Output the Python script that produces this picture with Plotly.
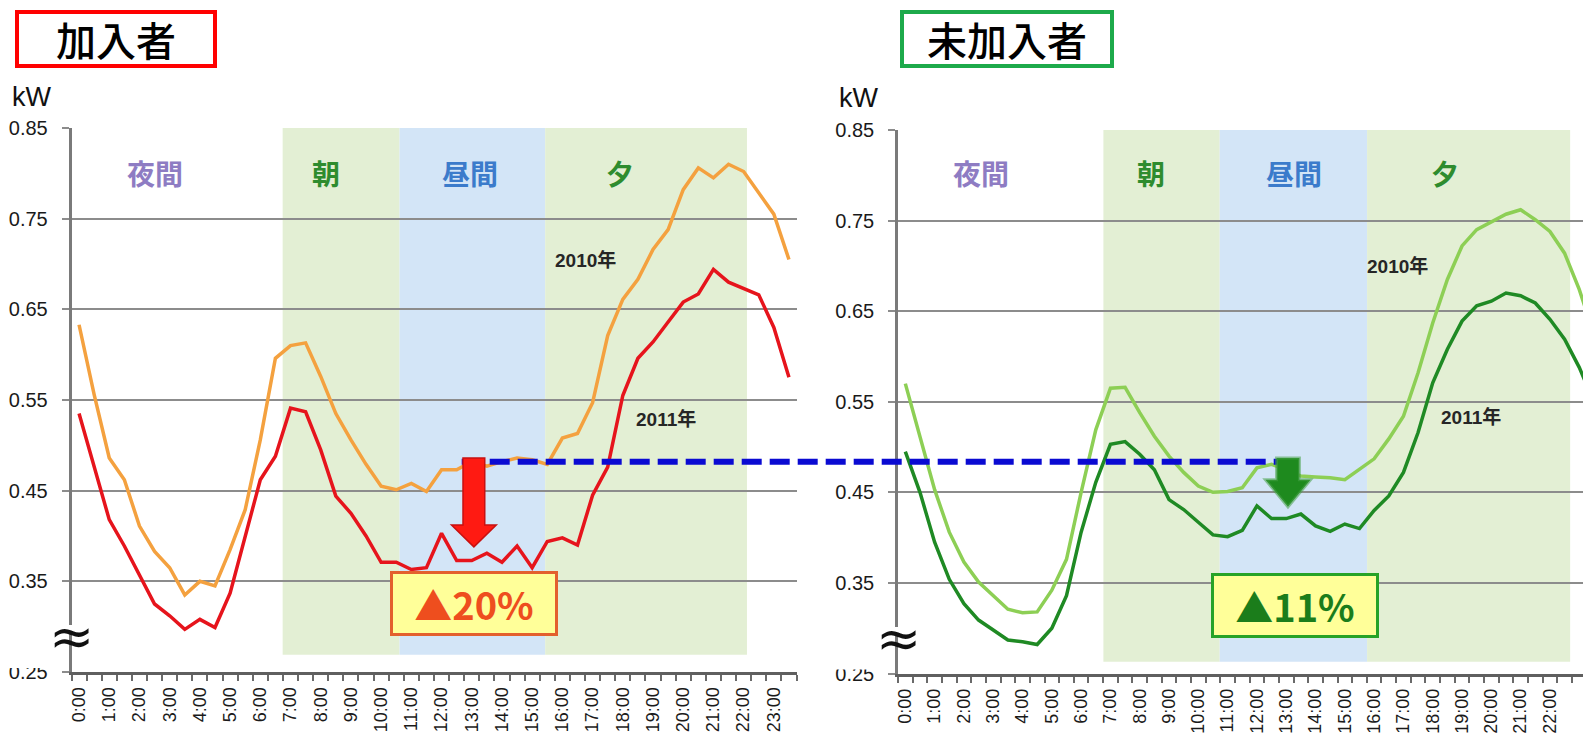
import plotly.graph_objects as go

W, H = 1583, 734

# ---------------- data ----------------
hours = [h / 2 for h in range(48)]            # half-hour slots 0:00 ... 23:30
hour_ticks = list(range(24))
hour_labels = [f"{h}:00" for h in range(24)]

# 加入者 (subscribers)
kanyu_2010 = [0.633, 0.556, 0.486, 0.462, 0.411, 0.383, 0.365, 0.335, 0.350, 0.345,
              0.385, 0.429, 0.506, 0.596, 0.610, 0.613, 0.576, 0.535, 0.506, 0.479,
              0.455, 0.451, 0.458, 0.449, 0.473, 0.473, 0.482, 0.477, 0.482, 0.486,
              0.484, 0.479, 0.508, 0.513, 0.547, 0.621, 0.661, 0.683, 0.716, 0.738,
              0.782, 0.806, 0.795, 0.810, 0.802, 0.779, 0.755, 0.705]
kanyu_2011 = [0.535, 0.477, 0.418, 0.389, 0.356, 0.325, 0.312, 0.297, 0.308, 0.299,
              0.337, 0.398, 0.462, 0.488, 0.541, 0.537, 0.495, 0.444, 0.425, 0.400,
              0.371, 0.371, 0.363, 0.365, 0.403, 0.373, 0.373, 0.381, 0.371, 0.389,
              0.365, 0.394, 0.398, 0.390, 0.445, 0.476, 0.555, 0.596, 0.614, 0.636,
              0.658, 0.667, 0.694, 0.680, 0.673, 0.666, 0.630, 0.575]

# 未加入者 (non-subscribers)
mikanyu_2010 = [0.570, 0.512, 0.453, 0.406, 0.373, 0.351, 0.336, 0.321, 0.317, 0.318,
                0.342, 0.376, 0.450, 0.519, 0.565, 0.566, 0.538, 0.512, 0.490, 0.472,
                0.457, 0.450, 0.451, 0.455, 0.477, 0.481, 0.475, 0.468, 0.467, 0.466,
                0.464, 0.476, 0.487, 0.509, 0.534, 0.582, 0.637, 0.685, 0.722, 0.740,
                0.749, 0.757, 0.762, 0.751, 0.738, 0.714, 0.674, 0.625]
mikanyu_2011 = [0.495, 0.450, 0.395, 0.354, 0.327, 0.309, 0.298, 0.287, 0.285, 0.282,
                0.300, 0.336, 0.406, 0.461, 0.503, 0.506, 0.492, 0.475, 0.442, 0.431,
                0.417, 0.403, 0.401, 0.408, 0.435, 0.421, 0.421, 0.426, 0.413, 0.407,
                0.415, 0.410, 0.430, 0.446, 0.472, 0.516, 0.571, 0.608, 0.639, 0.656,
                0.661, 0.670, 0.667, 0.659, 0.641, 0.619, 0.588, 0.550]

y_ticks = [0.25, 0.35, 0.45, 0.55, 0.65, 0.75, 0.85]
y_ticktext = ["0.25", "0.35", "0.45", "0.55", "0.65", "0.75", "0.85"]

panel_titles = ["加入者", "未加入者"]
period_labels = ["夜間", "朝", "昼間", "夕"]
year_labels = ["2010年", "2011年"]
reduction_labels = ["▲20%", "▲11%"]

# ---------------- helpers ----------------
def px(x):
    return x / W


def py(y):
    return 1 - y / H


C_ORANGE = "#F4A13F"
C_RED = "#E6141C"
C_LGREEN = "#8DCF55"
C_DGREEN = "#1F8A24"
BAND_G = "#E3EFD4"
BAND_B = "#D3E5F7"
GRID = "#8C8C8C"
TICKFONT = dict(family="Liberation Sans, Arial, sans-serif", size=20, color="#1a1a1a")
JP = "Noto Sans CJK JP"

fig = go.Figure()
fig.add_trace(go.Scatter(x=hours, y=kanyu_2010, mode="lines", line=dict(color=C_ORANGE, width=3.5),
                         xaxis="x", yaxis="y", showlegend=False, hoverinfo="skip"))
fig.add_trace(go.Scatter(x=hours, y=kanyu_2011, mode="lines", line=dict(color=C_RED, width=3.5),
                         xaxis="x", yaxis="y", showlegend=False, hoverinfo="skip"))
fig.add_trace(go.Scatter(x=hours, y=mikanyu_2010, mode="lines", line=dict(color=C_LGREEN, width=3.5),
                         xaxis="x2", yaxis="y2", showlegend=False, hoverinfo="skip"))
fig.add_trace(go.Scatter(x=hours, y=mikanyu_2011, mode="lines", line=dict(color=C_DGREEN, width=3.5),
                         xaxis="x2", yaxis="y2", showlegend=False, hoverinfo="skip"))


def xaxis_cfg(domain, rng, anchor):
    return dict(domain=domain, range=rng, anchor=anchor, automargin=False,
                tickmode="array", tickvals=hour_ticks, ticktext=hour_labels,
                tickangle=-90, tickfont=dict(TICKFONT, size=18), ticks="",
                showline=True, linecolor="#5f5f5f", linewidth=3,
                showgrid=False, zeroline=False, ticklabelstandoff=5,
                minor=dict(ticks="outside", ticklen=6, tickwidth=1.5, tickcolor="#6a6a6a",
                           tickmode="linear", tick0=-0.25, dtick=0.5, showgrid=False))


def yaxis_cfg(domain, anchor):
    return dict(domain=domain, range=[0.25, 0.85], anchor=anchor, automargin=False,
                tickmode="array", tickvals=y_ticks, ticktext=y_ticktext,
                tickfont=TICKFONT, ticks="outside", ticklen=7, tickwidth=2, tickcolor=GRID,
                showgrid=True, gridcolor=GRID, gridwidth=2,
                showline=True, linecolor="#7a7a7a", linewidth=2.5,
                zeroline=False, ticklabelstandoff=10)


L_X0, L_X1 = 71.5, 796.5
R_X0 = 898.0
R_PX_PER_H = 29.3

fig.update_layout(
    width=W, height=H, margin=dict(l=0, r=0, t=0, b=0, autoexpand=False),
    paper_bgcolor="white", plot_bgcolor="white", showlegend=False,
    xaxis=xaxis_cfg([px(L_X0), px(L_X1)], [-0.25, 23.75], "y"),
    yaxis=yaxis_cfg([py(672), py(128)], "x"),
    xaxis2=xaxis_cfg([px(R_X0), 1.0], [-0.25, -0.25 + (W - R_X0) / R_PX_PER_H], "y2"),
    yaxis2=yaxis_cfg([py(673.5), py(130)], "x2"),
)

shapes = []
# time-of-day bands
for xr, yr, bands, ybot in [("x", "y", [(6.74, 10.61, BAND_G), (10.61, 15.43, BAND_B), (15.43, 22.11, BAND_G)], 0.269),
                            ("x2", "y2", [(6.76, 10.73, BAND_G), (10.73, 15.76, BAND_B), (15.76, 22.69, BAND_G)], 0.263)]:
    for x0, x1, col in bands:
        shapes.append(dict(type="rect", xref=xr, yref=yr, x0=x0, x1=x1, y0=ybot, y1=0.85,
                           fillcolor=col, line=dict(width=0), layer="below"))

# dashed reference line across both panels
shapes.append(dict(type="line", xref="paper", yref="paper", x0=px(461.7), x1=px(1300),
                   y0=py(461.7), y1=py(461.7), line=dict(color="#0A0AD2", width=6, dash="20px,8px"),
                   layer="above"))


def arrow_path(cx, top, neck, tip, hs, hh):
    return (f"M {cx-hs},{top} L {cx+hs},{top} L {cx+hs},{neck} L {cx+hh},{neck} "
            f"L {cx},{tip} L {cx-hh},{neck} L {cx-hs},{neck} Z")


shapes.append(dict(type="path", xref="x", yref="y",
                   path=arrow_path(13.07, 0.486, 0.412, 0.388, 0.36, 0.74),
                   fillcolor="#FF1A12", line=dict(color="#C81010", width=1.5), layer="above"))
shapes.append(dict(type="path", xref="x2", yref="y2",
                   path=arrow_path(13.06, 0.488, 0.464, 0.434, 0.39, 0.77),
                   fillcolor="#1E8A1E", line=dict(color="rgba(70,160,70,0.55)", width=3), layer="above"))

# partially hidden "0.25" labels
shapes.append(dict(type="rect", xref="paper", yref="paper", x0=px(0), x1=px(62), y0=py(668), y1=py(652),
                   fillcolor="white", line=dict(width=0), layer="above"))
shapes.append(dict(type="rect", xref="paper", yref="paper", x0=px(826), x1=px(888), y0=py(669.5), y1=py(653),
                   fillcolor="white", line=dict(width=0), layer="above"))
# axis break gaps
for ax_x, cy in [(71.5, 629), (899, 631)]:
    shapes.append(dict(type="rect", xref="paper", yref="paper", x0=px(ax_x - 5), x1=px(ax_x + 5),
                       y0=py(cy + 4), y1=py(cy - 4), fillcolor="white", line=dict(width=0), layer="above"))

annotations = []
# panel titles
for text, cx, w, col in [(panel_titles[0], 116, 194, "#FF0000"), (panel_titles[1], 1007, 206, "#1DAA4B")]:
    annotations.append(dict(xref="paper", yref="paper", x=px(cx), y=py(39), text=text, showarrow=False,
                            font=dict(family=JP, size=40, color="black", weight=500), bordercolor=col,
                            borderwidth=4, borderpad=0, width=w, height=50, bgcolor="white",
                            xanchor="center", yanchor="middle"))
# kW units
for cx, cy in [(32, 97), (859, 98)]:
    annotations.append(dict(xref="paper", yref="paper", x=px(cx), y=py(cy), text="kW", showarrow=False,
                            font=dict(family="Liberation Sans, Arial, sans-serif", size=27, color="#111"),
                            xanchor="center", yanchor="middle"))
# period labels
period_colors = ["#8E7CC3", "#2E8C2E", "#3B7BCB", "#2E8C2E"]
for xs in [(154.5, 326, 470, 620), (981, 1150.6, 1294, 1445)]:
    for lab, cx, col in zip(period_labels, xs, period_colors):
        annotations.append(dict(xref="paper", yref="paper", x=px(cx), y=py(172.5), text=f"<b>{lab}</b>",
                                showarrow=False, font=dict(family=JP, size=28, color=col),
                                xanchor="center", yanchor="middle"))
# year labels
for (x10, y10), (x11, y11) in [((585.5, 260), (665.5, 418.5)), ((1397, 266), (1470.5, 416.5))]:
    for lab, cx, cy in [(year_labels[0], x10, y10), (year_labels[1], x11, y11)]:
        annotations.append(dict(xref="paper", yref="paper", x=px(cx), y=py(cy), text=f"<b>{lab}</b>",
                                showarrow=False,
                                font=dict(family="Liberation Sans, Noto Sans CJK JP", size=19, color="#262626"),
                                xanchor="center", yanchor="middle"))
# reduction boxes
for text, cx, cy, tcol, bcol in [(reduction_labels[0], 474, 603.4, "#EE4E1E", "#E3602D"),
                                 (reduction_labels[1], 1294.5, 605.8, "#1B7D1B", "#27A327")]:
    annotations.append(dict(xref="paper", yref="paper", x=px(cx), y=py(cy), text=f"<b>{text}</b>",
                            showarrow=False,
                            font=dict(family=JP, size=38, color=tcol), bgcolor="#FFFF99",
                            bordercolor=bcol, borderwidth=3, borderpad=0, width=162, height=59,
                            xanchor="center", yanchor="middle"))
# axis break symbols
for cx, cy in [(71.5, 629), (899, 631)]:
    annotations.append(dict(xref="paper", yref="paper", x=px(cx), y=py(cy + 7), text="≈", showarrow=False,
                            font=dict(family="DejaVu Sans", size=54, color="#111"),
                            xanchor="center", yanchor="middle"))

fig.update_layout(shapes=shapes, annotations=annotations)
fig.write_html("out.html")
